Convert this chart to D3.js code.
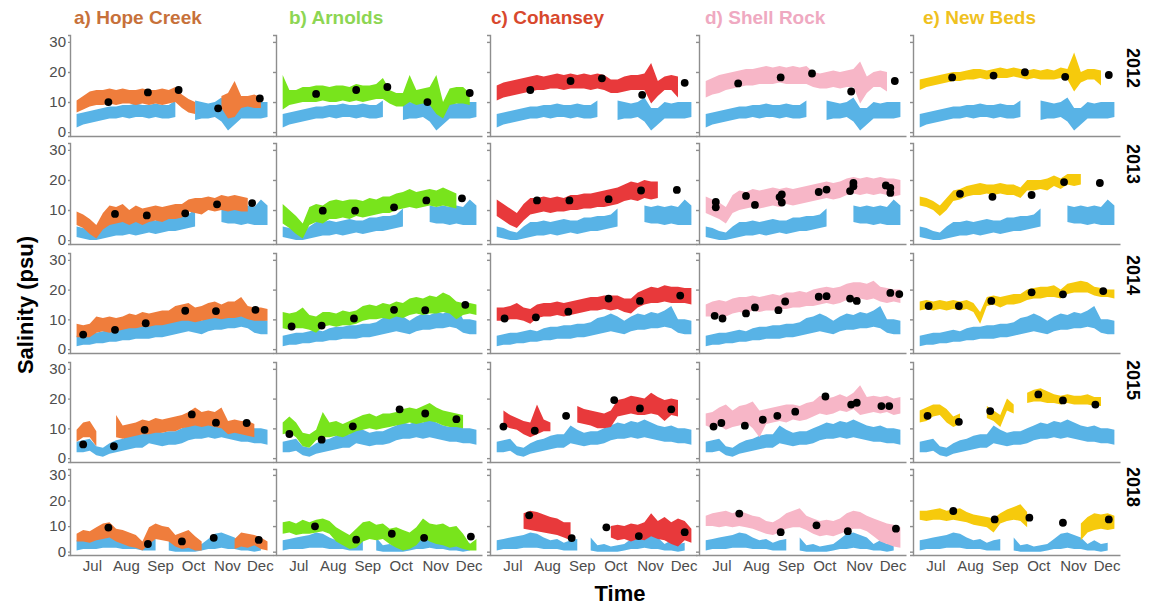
<!doctype html>
<html>
<head>
<meta charset="utf-8">
<title>Salinity panels</title>
<script src="https://d3js.org/d3.v7.min.js"></script>
<style>
  body { margin: 0; background: #ffffff; }
  text { font-family: Arial, "Liberation Sans", sans-serif; }
</style>
</head>
<body>
<script>
// sites (columns) and years (rows)
var sites = ["a) Hope Creek", "b) Arnolds", "c) Cohansey", "d) Shell Rock", "e) New Beds"];
var years = ["2012", "2013", "2014", "2015", "2018"];
var monthTicks = ["Jul", "Aug", "Sep", "Oct", "Nov", "Dec"];
var yTicks = [0, 10, 20, 30];

// daily salinity range sampled every 6 days from 17 Jun (null = no record)
var seriesStart = "06-17", stepDays = 6;

// reference series (blue), one per year
var blueLo = [
  [1.5,2.5,3,3.5,4,4.5,4.5,5,4.5,5, 5,4.5,5,4.5,4.5,5,null,null,4,4.5, 4.5,5,3.5,0.5,2.5,4.5,4.5,4.5,4.5,5],
  [1,0.5,0,0,0.5,1,1.5,1.5,2,1.5, 2,2.5,2,2.5,3,3,3.5,4,4.5,null, null,null,6,5.5,5.5,5,5.5,5,5,5],
  [1,1.5,1.5,2,2,2.5,2.5,3,3,3.5, 3.5,3.5,4,4,4.5,5,5.5,6,5.5,5, 6,6.5,6.5,7,7,7.5,7,5.5,5,5],
  [2,2,2.5,1,0.5,1.5,2,2.5,3,3.5, 3.5,5,4.5,4,4.5,4.5,5,6,6.5,6.5, 7,6.5,7,6.5,6,5.5,5.5,5,5,4.5],
  [0.5,1,1,1,1.5,1.5,1.5,1,1,1, 0.5,0.5,0.5,null,0.5,0,0,0,0,0.5, 1,1,1.5,1,1,0.5,0.5,0,0.5,null]
];
var blueHi = [
  [6,6.5,7,7.5,8,8.5,8.5,9,9,9.5, 9,9,9.5,9,9,10.5,null,null,10.5,10, 9.5,10,11.5,8,8,10,9.5,10,10,10],
  [4.5,4,3,2.5,4.5,6,6,6.5,6,6.5, 7,6.5,6.5,7.5,7.5,8,8,8.5,10.5,null, null,null,11.5,11,11.5,11,11.5,11,13.5,11.5],
  [4.5,5,5.5,5.5,6,6.5,6,7,7.5,7.5, 8,8,8.5,8.5,9,10.5,11,12,11,9.5, 11,12,11.5,12.5,12,13,14.5,10,10,9.5],
  [5.5,6,6.5,4,3.5,5,6,6.5,7.5,8, 8,11,9.5,8.5,9,9,10,11,12,11.5, 12.5,12,13,12,11,10.5,11,10,10,9.5],
  [4.5,5,5.5,6,6.5,7.5,7,5.5,4.5,5, 3.5,4.5,5,null,5.5,2.5,3,2,2.5,3, 5,7,7.5,6.5,5.5,3,4.5,3,3.5,null]
];

// Hope Creek
var hopeLo = [
  [6.5,7.5,8.5,9,9,9.5,9,9.5,9.5,9, 9.5,9,9.5,9,9.5,10,8,6.5,6,null, null,null,8,4.5,5,8,8.5,8,8,null],
  [5,4,2,0.5,3.5,5,5.5,6,5,6, 5,6,6.5,6,7,7,7.5,9.5,9,8.5, 10,9.5,10,9.5,10,9.5,9.5,null,null,null],
  [4,4,4,5.5,6,5.5,6,6.5,7,7, 7.5,7.5,8,8,8.5,9,9.5,9.5,9,9.5, 10,10.5,10,10.5,10.5,11,10,9.5,9.5,9.5],
  [5.5,7,7,4,null,null,7,6.5,7,7.5, 8,8,8.5,8.5,9,9,10,10.5,11,10.5, 11,10.5,10,8,8.5,8,7.5,7,null,null],
  [4,4,3.5,4.5,5,5.5,4,3,2,1.5, 0.5,3,5,4.5,4,2,1,1.5,0.5,0.5, null,null,null,null,1,2,1.5,2.5,1,0.5]
];
var hopeHi = [
  [10.5,12,13.5,14,14,14.5,14,14.5,14,14, 14.5,14,14,14.5,14,15,12.5,11,10,null, null,null,12,13,17,12,12,12.5,11.5,null],
  [9.5,8.5,7,5,9,11.5,11,12,10,11.5, 10.5,11,11.5,11,11.5,12,12,13.5,14,14, 14.5,14,15,14.5,15,14.5,14,null,null,null],
  [8.5,8,8.5,11,10.5,11,10.5,11,12,11.5, 12.5,12,12.5,13,13,14.5,15,15.5,14,14.5, 15.5,16,15,16,16,17.5,14.5,14,14,13.5],
  [9.5,12,12.5,9,null,null,14.5,11,11.5,12, 13,12.5,13.5,13,13.5,14,14.5,15.5,17,15.5, 16,15.5,17,12.5,13,12.5,12.5,11.5,null,null],
  [7,8.5,8,9.5,11,11.5,9,8.5,7.5,6.5, 4,9.5,11,10,9.5,6.5,7.5,8.5,6,4, null,null,null,null,5,7.5,7,6.5,5.5,4]
];
var hopeDots = [
  [["07-16",10],["08-21",13.2],["09-18",14],["10-24",7.9],["12-01",11.2]],
  [["07-22",8.7],["08-20",8.2],["09-24",8.9],["10-23",11.9],["11-24",12.3]],
  [["06-23",4.9],["07-22",6.5],["08-19",8.7],["09-24",12.9],["10-22",12.8],["11-27",13.2]],
  [["06-23",4.6],["07-21",4],["08-18",9.5],["09-30",14.7],["10-22",11.9],["11-19",11.8]],
  [["07-16",9.4],["08-21",3],["09-21",4],["10-20",5.4],["11-30",4.6]]
];

// Arnolds
var arnoldsLo = [
  [7.5,9,9.5,10,10,10,10.5,10,10,10.5, 10,10.5,10,10.5,11,11,9.5,8.5,8.5,10, 9,9.5,9,6,4.5,9,9.5,9.5,9,null],
  [5.5,4,2,0.5,5,6,5.5,7,7,7.5, 7,8,7.5,8,8.5,9,9,10,10.5,11, 10.5,11,11.5,11,11.5,11,10.5,null,null,null],
  [7,6.5,7,7,6.5,5.5,7.5,8,7.5,8, 8,8.5,9.5,10,10,10.5,10,11,10.5,11.5, 12,11.5,12,12,12.5,12,10,11.5,12,11.5],
  [8,8.5,7,4,3.5,6,7,7,7.5,7, 8,9,9.5,10,9.5,10,10.5,11,11.5,12, 11.5,12,12.5,12,11,10.5,10.5,10,null,null],
  [7,7.5,6.5,7,7,7.5,8,7,4,2.5, 1,1.5,4,5,4.5,5,3,1.5,0.5,1, 2.5,5.5,4,3,2.5,1.5,2,1,0.5,0.5]
];
var arnoldsHi = [
  [19,14,14,15,15,15.5,15.5,15,15.5,15.5, 15,16,15.5,15.5,16,18,14,13,13,19, 14,14.5,15,19,10,14.5,15,15,13,null],
  [12,10,8,5.5,11,12,11.5,13,13.5,13, 13.5,13.5,13,14,13.5,14.5,14.5,15.5,16,17, 16,16.5,17,16.5,17.5,16.5,15.5,null,null,null],
  [12.5,12,12.5,14,11.5,11,12.5,12.5,12,13, 12.5,13,14.5,15,14.5,15.5,15,16,15.5,17, 17.5,17,18,17.5,19,18,16,15.5,15.5,15],
  [12,14,12,8.5,8,9.5,15.5,12,12.5,11.5, 12.5,13.5,14.5,15,14,15,15,15.5,16.5,17, 16.5,17.5,18.5,17,16,15.5,15,14.5,null,null],
  [11.5,12,11,12.5,11.5,12.5,13,12,9.5,8, 6.5,9,11.5,12,10.5,11,9,9.5,8.5,7.5, 9.5,13,11,10.5,11,9.5,10,7,3,5]
];
var arnoldsDots = [
  [["07-17",12.7],["08-22",14],["09-19",15],["10-25",10],["12-02",13]],
  [["07-23",9.8],["08-21",9.8],["09-25",10.9],["10-24",13.2],["11-25",13.9]],
  [["06-25",7.6],["07-22",7.9],["08-20",10.3],["09-25",13.2],["10-23",13.1],["11-28",14.9]],
  [["06-23",8.1],["07-22",6.2],["08-19",10.7],["09-30",16.4],["10-23",15],["11-20",13.1]],
  [["07-16",9.9],["08-22",4.7],["09-23",7],["10-22",5.4],["12-03",5.9]]
];

// Cohansey
var cohanseyLo = [
  [10.5,11.5,12,12.5,13,13.5,14,14,14.5,14.5, 14,14.5,14.5,14.5,14,14.5,14,13,13,13.5, 14,14,14,9.5,12,14,14,11.5,null,null],
  [8,6.5,5,4,6.5,8.5,9,9.5,9,9.5, 9.5,10,10,10.5,10.5,11,11,11.5,12,13, 13.5,13,14,13.5,14,null,null,null,null,null],
  [9.5,9.5,10,10,9.5,8.5,10.5,11,11,11.5, 11,11.5,12,12.5,13,13,13.5,13,13.5,12.5, 12,14,15,15.5,15.5,16,15.5,15.5,15.5,15],
  [null,11,10,9.5,8,7,8,9,9,null, null,null,12,11.5,11,10,10,10.5,14,14.5, 15,14.5,14.5,15,14.5,12.5,14.5,14,null,null],
  [null,null,null,null,9,8.5,8,7.5,7,6.5, 5.5,4.5,null,null,null,null,null,5.5,4.5,5, 4,5,4.5,6,5,4.5,3,2,4.5,3.5]
];
var cohanseyHi = [
  [15.5,16.5,17,17.5,18,18.5,19,18.5,19,19.5, 19,19.5,19,19.5,19,19.5,19,17.5,17.5,18.5, 19,19,19.5,23,17,18.5,19,18.5,null,null],
  [13.5,12,10.5,9,12,14,14,14.5,14,14.5, 14,15,15,15.5,15.5,16,16.5,17,17.5,18.5, 19.5,19,20,19.5,19.5,null,null,null,null,null],
  [14,14,14.5,15.5,14,13.5,15,15.5,15.5,16, 15.5,16,16.5,17,17.5,17.5,18,18,18,17, 17,19,20,21,20.5,21.5,21,21,20.5,20.5],
  [null,16,14.5,13.5,12.5,12,18,13,12,null, null,null,17.5,16.5,16,15.5,15,16,19.5,20, 21,20.5,20,22,20.5,19.5,20,19.5,null,null],
  [null,null,null,null,15,16,15.5,14.5,13.5,13, 11.5,11.5,null,null,null,null,null,10,10.5,10, 11,10.5,11.5,15,12,13.5,11.5,13,12,9]
];
var cohanseyDots = [
  [["07-17",14],["08-22",17],["09-19",17.9],["10-25",12.4],["12-02",16.4]],
  [["07-23",13.2],["08-21",13.2],["09-25",13.6],["10-24",16.5],["11-25",16.7]],
  [["06-24",10.3],["07-22",10.7],["08-20",12.6],["09-25",17],["10-23",16.2],["11-28",18]],
  [["06-23",10.6],["07-21",9.2],["08-18",14.2],["09-30",19.5],["10-23",16.7],["11-20",16.4]],
  [["07-16",14.2],["08-23",5.3],["09-23",9.5],["10-22",6.1],["12-02",7.6]]
];

// Shell Rock
var shellLo = [
  [11.5,12.5,13,14,14.5,15,15.5,15.5,16,16, 16,16.5,16,16,16,16,15,14.5,14.5,15, 14.5,15,15,9.5,13,15,15,13.5,null,null],
  [9,8,7,5.5,9,10,10.5,11,10.5,11, 11.5,11,12,11.5,12,12.5,13,13.5,14,13.5, 14,15,15.5,15,15.5,15,15.5,15,14.5,15],
  [11,11,11.5,11,12,12.5,12,13,12.5,13, 13,13.5,13.5,14,14,14.5,14.5,15,15.5,15, 15.5,16.5,16,17,16.5,17,16,15.5,16,15.5],
  [11,10,11,9.5,10.5,11,12,10,7,11.5, 12,12.5,12,13,12.5,13,14,15,14.5,15, 16,15.5,16.5,14.5,15,15.5,15,15.5,14.5,15],
  [10,10,9.5,10,9.5,10,9.5,9,8,7, 6.5,7.5,9,9.5,9.5,8.5,7,6,6.5,6, 7,8,9,9,8,6,4,3,2,1.5]
];
var shellHi = [
  [17,18,19,19.5,20,20.5,21,21,21.5,22, 21.5,22,21.5,22,21.5,22,20,19.5,20,20.5, 20,20.5,21,23.5,18.5,20,20.5,20,null,null],
  [14.5,13.5,12.5,11,15,16.5,16,17,16.5,17, 17.5,17,17.5,17,17.5,18,18.5,19,19.5,19, 19.5,20.5,21,20.5,21,20.5,21,20.5,20.5,20],
  [15,16,16.5,16,17,17.5,17.5,18,17.5,18, 18.5,18,19,19,19.5,19,20,20.5,21,20.5, 21,22,22.5,22.5,22,23,21,20.5,20,20],
  [15,15.5,17,18,16,17.5,18,19,16,16.5, 17,17.5,18,18,17.5,18.5,19,21,20,20.5, 21.5,20.5,22,24.5,20.5,21,20.5,21,20,20.5],
  [14,15,15.5,16,15,16,15,14,13.5,12, 11.5,13,15,16,17,14,13,12,12.5,12, 13,15,16,15.5,14,13,12,11,10.5,9.5]
];
var shellDots = [
  [["07-16",16.2],["08-23",18.2],["09-20",19.5],["10-25",13.5],["12-03",17]],
  [["06-26",12.7],["06-26",10.9],["07-23",14.7],["07-31",11.7],["08-22",14.3],["08-24",15.2],["08-24",12.5],
   ["09-26",16],["10-03",16.8],["10-24",16.3],["10-27",19],["10-27",17.9],["11-25",18.2],["11-29",17.4],["11-29",15.7]],
  [["06-25",11.2],["07-02",10.3],["07-23",12],["07-31",14],["08-21",13.1],["08-27",16],
   ["09-26",17.6],["10-03",17.8],["10-24",17],["10-30",16.2],["11-29",18.9],["12-07",18.5]],
  [["06-24",10.6],["07-01",11.8],["07-22",10.9],["08-07",12.9],["08-20",14.2],["09-05",15.6],
   ["10-02",20.7],["10-25",18],["10-30",18.6],["11-21",17.5],["11-28",17.5]],
  [["07-17",14.9],["08-23",7.6],["09-24",10.3],["10-22",8],["12-04",9]]
];

// New Beds
var newBedsLo = [
  [14,15,15.5,16,16.5,17,17,17.5,17.5,18, 17.5,18,18,18,18.5,18,17.5,18,17.5,17.5, 17.5,18,17.5,13.5,16.5,17.5,17.5,15.5,null,null],
  [11.5,11,10,8,10,13,13.5,14.5,15,15, 15.5,15,15.5,15,15,14,16.5,16.5,17,16.5, 18,17,18.5,18,18.5,null,null,null,null,null],
  [13,13.5,13,13.5,13,13.5,13,13.5,12.5,8.5, 14.5,15,14,15,15,15.5,16.5,17,17,17.5, 17.5,17,18.5,19,19,19,18,17.5,17.5,17],
  [12,12.5,14,14.5,12,10.5,11.5,null,null,null, 13.5,12.5,10.5,16,15,null,18.5,19,19,18.5, 18.5,18,18.5,18,18,18,17.5,17.5,null,null],
  [12.5,12,12.5,12.5,12,12.5,12,11.5,10.5,10, 9.5,7.5,11,12,12.5,12,9.5,null,null,null, null,null,null,null,4.5,7.5,8.5,9,8.5,9]
];
var newBedsHi = [
  [17.5,18,18.5,19,19.5,20,20,20.5,21,21, 20.5,21,21.5,21,21.5,21,20.5,21,20.5,21, 20.5,21.5,21,26.5,20,21,21,20.5,null,null],
  [14.5,14,13,11.5,14,16.5,17,18,18.5,19, 18.5,18.5,19,18.5,18.5,17.5,20,20,20,20.5, 21.5,20.5,22,22,22,null,null,null,null,null],
  [16,16.5,16,16.5,16,16.5,16,16.5,15.5,12.5, 17.5,18,17.5,18,18.5,18.5,20,20.5,21,21, 21.5,20,22,22.5,23,22.5,21,20.5,20,20],
  [16,17,18,18,16.5,14,15,null,null,null, 17.5,16,14.5,20,18,null,22,23,23.5,22.5, 21.5,21,21.5,21,21,21.5,20.5,20.5,null,null],
  [16,16,16.5,17,16,16.5,17,15.5,14.5,14, 13.5,13,15,16.5,17.5,18.5,15.5,null,null,null, null,null,null,null,11,13.5,15,14.5,15,14]
];
var newBedsDots = [
  [["07-16",18.2],["08-22",18.8],["09-19",19.9],["10-25",18.4],["12-03",19]],
  [["07-23",15.4],["08-21",14.4],["09-25",15],["10-24",19.3],["11-25",19]],
  [["06-25",14.5],["07-22",14.5],["08-20",16.2],["09-25",19.1],["10-23",18.4],["11-28",19.5]],
  [["06-24",14.2],["07-22",12.2],["08-19",15.8],["10-01",21.4],["10-23",19.4],["11-21",18]],
  [["07-17",15.9],["08-23",12.6],["09-23",13.3],["10-23",11.3],["12-03",12.6]]
];

var siteLo = [hopeLo, arnoldsLo, cohanseyLo, shellLo, newBedsLo];
var siteHi = [hopeHi, arnoldsHi, cohanseyHi, shellHi, newBedsHi];
var siteDots = [hopeDots, arnoldsDots, cohanseyDots, shellDots, newBedsDots];

// colours
var blueColor = "#58b3e6";
var siteColors = ["#ef7d3c", "#78e41c", "#e8393b", "#f7b6c7", "#f6ca0c"];
var titleColors = ["#c7713a", "#8dd653", "#d8482d", "#efa9c1", "#efc11f"];

// layout of the panel grid
var w = 1149, h = 606;
var colLeft = [70, 276, 490, 699, 913];
var colRight = [273, 482, 697, 906, 1120];
var rowTop = [35, 143, 253, 362, 469];
var rowBottom = [136, 244, 353, 462, 555];
var yearY = [68, 164, 275, 380, 487];

var svg = d3.select("body").append("svg")
  .attr("width", w)
  .attr("height", h);

var parseMD = d3.timeParse("%m-%d");
var start = parseMD(seriesStart);
var xDomain = [parseMD("06-11"), parseMD("12-13")];
var monthDates = monthTicks.map(function(m) { return d3.timeParse("%b")(m); })
  .map(function(d) { return new Date(1900, d.getMonth(), 1); });

function toRows(lo, hi) {
  return lo.map(function(v, i) {
    return { date: d3.timeDay.offset(start, i * stepDays), lo: v, hi: hi[i] };
  });
}

sites.forEach(function(site, c) {
  years.forEach(function(yr, r) {
    var x = d3.scaleTime().domain(xDomain).range([colLeft[c], colRight[c]]);
    var y = d3.scaleLinear().domain([-1.3, 32.3]).range([rowBottom[r], rowTop[r]]);
    var g = svg.append("g");

    var area = d3.area()
      .defined(function(d) { return d.lo != null && d.hi != null; })
      .x(function(d) { return x(d.date); })
      .y0(function(d) { return y(d.lo); })
      .y1(function(d) { return y(d.hi); });

    g.append("path")
      .datum(toRows(blueLo[r], blueHi[r]))
      .attr("d", area)
      .style("fill", blueColor);

    g.append("path")
      .datum(toRows(siteLo[c][r], siteHi[c][r]))
      .attr("d", area)
      .style("fill", siteColors[c]);

    g.selectAll("circle")
      .data(siteDots[c][r])
      .enter()
      .append("circle")
      .attr("cx", function(d) { return x(parseMD(d[0])); })
      .attr("cy", function(d) { return y(d[1]); })
      .attr("r", 3.9)
      .style("fill", "#000");

    // left axis
    var yAxis = d3.axisLeft(y).tickValues(yTicks).tickSizeOuter(0);
    if (c === 0) {
      yAxis.tickSize(2).tickPadding(2);
    } else {
      yAxis.tickSize(3).tickFormat("");
    }
    var ya = g.append("g")
      .attr("transform", "translate(" + colLeft[c] + ",0)")
      .call(yAxis);
    ya.selectAll("text").style("font-size", "15px").style("fill", "#4d4d4d");

    // bottom axis
    var xAxis = d3.axisBottom(x).tickSize(0).tickSizeOuter(0);
    if (r === years.length - 1) {
      xAxis.tickValues(monthDates).tickFormat(d3.timeFormat("%b")).tickPadding(5);
    } else {
      xAxis.tickValues([]);
    }
    var xa = g.append("g")
      .attr("transform", "translate(0," + rowBottom[r] + ")")
      .call(xAxis);
    xa.selectAll("text").style("font-size", "15px").style("fill", "#4d4d4d");

    svg.selectAll(".domain, .tick line")
      .style("stroke", "#8e8e8e")
      .style("stroke-width", 1.4);
  });

  // column title
  svg.append("text")
    .attr("x", colLeft[c] + [4, 13, 1, 6, 10][c])
    .attr("y", 24)
    .style("font-size", "19px")
    .style("font-weight", "bold")
    .style("fill", titleColors[c])
    .text(site);
});

// year labels on the right
years.forEach(function(yr, r) {
  svg.append("text")
    .attr("transform", "translate(1133," + yearY[r] + ") rotate(90)")
    .attr("text-anchor", "middle")
    .attr("dominant-baseline", "central")
    .style("font-size", "18px")
    .style("font-weight", "bold")
    .text(yr);
});

svg.append("text")
  .attr("transform", "translate(25,305) rotate(-90)")
  .attr("text-anchor", "middle")
  .attr("dominant-baseline", "central")
  .style("font-size", "22px")
  .style("font-weight", "bold")
  .text("Salinity (psu)");

svg.append("text")
  .attr("x", 620)
  .attr("y", 601)
  .attr("text-anchor", "middle")
  .style("font-size", "22px")
  .style("font-weight", "bold")
  .text("Time");
</script>
</body>
</html>
